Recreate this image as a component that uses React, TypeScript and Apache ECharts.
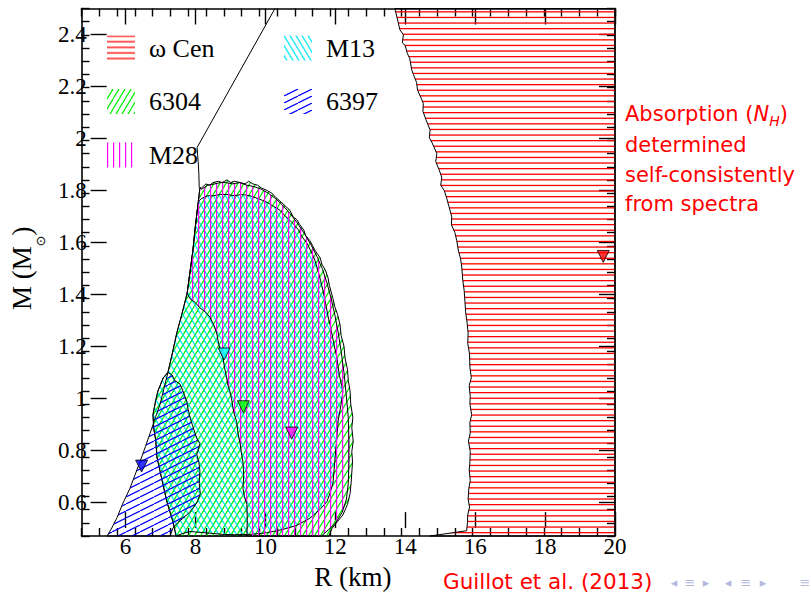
import React, { useEffect, useRef } from 'react';
import * as echarts from 'echarts';

type P = [number, number];

const X_MIN = 5, X_MAX = 20, Y_MIN = 0.5, Y_MAX = 2.5;
const xMajorTicks = [6, 8, 10, 12, 14, 16, 18, 20];
const yMajorTicks = [0.6, 0.8, 1, 1.2, 1.4, 1.6, 1.8, 2, 2.2, 2.4];

const legendCol1 = ['ω Cen', '6304', 'M28'];
const legendCol2 = ['M13', '6397'];

const omegaCenEdge: P[] = [
  [13.81, 2.5], [13.9, 2.45], [13.95, 2.42], [14.05, 2.4], [14.02, 2.37], [14.1, 2.36], [14.16, 2.33],
  [14.23, 2.31], [14.28, 2.27], [14.33, 2.25], [14.42, 2.22], [14.45, 2.19], [14.55, 2.16], [14.61, 2.14],
  [14.6, 2.11], [14.68, 2.08], [14.8, 2.04], [14.78, 2.01], [14.86, 1.99], [14.99, 1.95], [14.96, 1.92],
  [15.05, 1.89], [15.13, 1.86], [15.1, 1.83], [15.2, 1.81], [15.27, 1.78], [15.33, 1.75], [15.41, 1.71],
  [15.4, 1.68], [15.5, 1.65], [15.55, 1.62], [15.6, 1.58], [15.66, 1.55], [15.69, 1.52], [15.72, 1.47],
  [15.76, 1.43], [15.78, 1.39], [15.8, 1.35], [15.84, 1.31], [15.87, 1.27], [15.86, 1.23], [15.91, 1.19],
  [15.92, 1.14], [15.96, 1.1], [15.9, 1.07], [15.93, 1.03], [15.92, 1.0], [15.97, 0.96], [15.92, 0.93],
  [15.93, 0.89], [15.88, 0.86], [15.93, 0.82], [15.92, 0.78], [15.9, 0.75], [15.93, 0.71], [15.89, 0.68],
  [15.87, 0.64], [15.91, 0.61], [15.86, 0.58], [15.85, 0.55], [15.83, 0.52], [14.8, 0.5],
  [20, 0.5], [20, 2.5],
];

const leftEdge: P[] = [
  [5.72, 0.5], [5.85, 0.53], [6.0, 0.57], [6.15, 0.62], [6.36, 0.68], [6.5, 0.73], [6.64, 0.78],
  [6.8, 0.84], [6.93, 0.89], [7.08, 0.95], [7.21, 1.0], [7.32, 1.06], [7.43, 1.12], [7.55, 1.19],
  [7.68, 1.27], [7.82, 1.34], [7.97, 1.42], [8.05, 1.5], [8.13, 1.58], [8.19, 1.66], [8.25, 1.73],
  [8.33, 1.82],
];

const blueTopRight: P[] = [
  [7.55, 1.11], [7.62, 1.09], [7.77, 1.076], [7.85, 1.05], [7.96, 1.01], [8.0, 0.98], [8.05, 0.95],
  [8.12, 0.92], [8.24, 0.87], [8.33, 0.85], [8.27, 0.82], [8.24, 0.81], [8.3, 0.78], [8.33, 0.745],
  [8.31, 0.7], [8.34, 0.66], [8.26, 0.63], [8.13, 0.605], [8.0, 0.585], [7.85, 0.567], [7.7, 0.55],
  [7.57, 0.53], [7.49, 0.5],
];

const innerLeft: P[] = [
  [7.66, 0.5], [7.57, 0.555], [7.4, 0.63], [7.3, 0.69], [7.21, 0.745], [7.12, 0.8], [7.09, 0.86],
  [7.03, 0.91], [7.01, 0.96], [7.08, 1.01], [7.15, 1.05], [7.3, 1.1],
];

const outer6304: P[] = [
  [8.38, 1.82], [8.5, 1.835], [8.6, 1.83], [8.7, 1.84], [8.85, 1.845], [8.95, 1.84], [9.09, 1.85],
  [9.2, 1.84], [9.3, 1.845], [9.46, 1.84], [9.6, 1.835], [9.7, 1.845], [9.82, 1.835], [9.95, 1.83],
  [10.05, 1.82], [10.22, 1.81], [10.35, 1.8], [10.45, 1.785], [10.58, 1.77], [10.7, 1.755], [10.86, 1.735],
  [10.95, 1.71], [11.05, 1.7], [11.14, 1.68], [11.25, 1.66], [11.3, 1.64], [11.42, 1.62], [11.5, 1.6],
  [11.58, 1.58], [11.71, 1.555], [11.76, 1.53], [11.85, 1.51], [11.93, 1.48], [11.97, 1.45], [12.07, 1.4],
  [12.12, 1.37], [12.2, 1.34], [12.27, 1.3], [12.3, 1.26], [12.38, 1.22], [12.41, 1.175], [12.48, 1.13],
  [12.5, 1.09], [12.55, 1.05], [12.57, 1.0], [12.63, 0.95], [12.6, 0.91], [12.64, 0.86], [12.6, 0.82],
  [12.62, 0.78], [12.6, 0.74], [12.58, 0.7], [12.55, 0.66], [12.48, 0.62], [12.35, 0.58], [12.2, 0.555],
  [12.05, 0.53], [11.95, 0.5],
];

const leftM28: P[] = [
  [9.65, 0.5], [9.66, 0.56], [9.65, 0.62], [9.58, 0.65], [9.54, 0.68], [9.56, 0.73], [9.54, 0.78],
  [9.49, 0.82], [9.46, 0.85], [9.4, 0.89], [9.36, 0.935], [9.3, 0.96], [9.26, 0.985], [9.22, 1.02],
  [9.17, 1.05], [9.12, 1.07], [9.08, 1.1], [9.02, 1.14], [8.98, 1.175], [8.93, 1.19], [8.89, 1.21],
  [8.84, 1.24], [8.8, 1.27], [8.72, 1.3], [8.61, 1.33], [8.48, 1.35], [8.33, 1.365], [8.2, 1.385],
  [8.05, 1.4],
];

const outerM28: P[] = [
  [8.38, 1.815], [8.55, 1.83], [8.75, 1.835], [8.9, 1.84], [9.05, 1.84], [9.25, 1.835], [9.45, 1.84],
  [9.65, 1.83], [9.85, 1.825], [10.05, 1.815], [10.25, 1.8], [10.45, 1.78], [10.65, 1.755], [10.85, 1.725],
  [11.05, 1.69], [11.25, 1.65], [11.45, 1.605], [11.62, 1.56], [11.78, 1.51], [11.9, 1.46], [12.02, 1.4],
  [12.12, 1.34], [12.22, 1.27], [12.3, 1.2], [12.38, 1.12], [12.44, 1.04], [12.5, 0.95], [12.52, 0.86],
  [12.52, 0.78], [12.5, 0.7], [12.45, 0.64], [12.33, 0.59], [12.15, 0.55], [11.95, 0.525], [11.75, 0.5],
];

const innerM13: P[] = [
  [8.3, 1.77], [8.38, 1.78], [8.55, 1.79], [8.7, 1.79], [8.9, 1.795], [9.09, 1.795], [9.3, 1.79],
  [9.5, 1.795], [9.74, 1.79], [9.95, 1.78], [10.1, 1.772], [10.22, 1.765], [10.4, 1.75], [10.58, 1.735],
  [10.75, 1.71], [10.95, 1.685], [11.1, 1.66], [11.2, 1.635], [11.34, 1.61], [11.45, 1.58], [11.55, 1.55],
  [11.62, 1.52], [11.72, 1.47], [11.79, 1.43], [11.88, 1.37], [11.95, 1.32], [11.99, 1.3], [12.08, 1.24],
  [12.18, 1.175], [12.25, 1.11], [12.35, 1.05], [12.3, 1.0], [12.22, 0.94], [12.17, 0.86], [12.12, 0.78],
  [12.07, 0.7], [11.98, 0.66], [11.9, 0.63], [11.7, 0.6], [11.42, 0.567], [11.05, 0.54], [10.66, 0.525],
  [10.2, 0.512], [9.74, 0.506], [9.3, 0.505], [8.98, 0.506], [8.5, 0.512], [8.05, 0.517], [7.85, 0.51],
];

const boundaryCurve: P[] = [
  [10.44, 2.5], [8.25, 1.973], [8.28, 1.92], [8.3, 1.873], [8.31, 1.82],
];

const markerPoints: P[] = [[19.67, 1.56], [9.01, 1.19], [9.55, 0.99], [10.91, 0.89], [6.69, 0.765]];
const markerColors = ['#ff0000', '#00ffff', '#00ff00', '#ff00ff', '#0000ff'];

const SERIF = '"Liberation Serif", "Times New Roman", serif';
const SANS = '"DejaVu Sans", sans-serif';
const RED = '#ff0000';

function makePattern(color: string, kind: 'h' | 'v' | 'up' | 'down', w: number, h: number, n = 5) {
  const c = document.createElement('canvas');
  c.width = w;
  c.height = h;
  const ctx = c.getContext('2d')!;
  ctx.strokeStyle = color;
  ctx.fillStyle = color;
  ctx.lineWidth = 1.2;
  if (kind === 'h') {
    for (let i = 0; i < n; i++) ctx.fillRect(0, (i * h) / n, w, 1.3);
  } else if (kind === 'v') {
    for (let i = 0; i < n; i++) ctx.fillRect((i * w) / n, 0, 1.2, h);
  } else {
    for (let k = -1; k <= 1; k++) {
      ctx.beginPath();
      if (kind === 'up') {
        ctx.moveTo(k * w, h);
        ctx.lineTo(k * w + w, 0);
      } else {
        ctx.moveTo(k * w, 0);
        ctx.lineTo(k * w + w, h);
      }
      ctx.stroke();
    }
  }
  return { image: c.toDataURL(), imageWidth: w, imageHeight: h, repeat: 'repeat' };
}

export default function App() {
  const ref = useRef<HTMLDivElement>(null);
  useEffect(() => {
    const chart = echarts.init(ref.current!, null, { renderer: 'svg' });

    const patterns: Record<string, any> = {
      'ω Cen': makePattern(RED, 'h', 8, 28),
      '6304': makePattern('#00ee00', 'up', 6, 10),
      'M28': makePattern('#ff00ff', 'v', 30, 8),
      'M13': makePattern('#00e8f0', 'down', 6, 10),
      '6397': makePattern('#0000ff', 'up', 14, 7),
    };

    const polys: Record<string, P[]> = {
      'ω Cen': omegaCenEdge,
      '6304': [...innerLeft, ...leftEdge.slice(12), ...outer6304],
      'M13': [...innerLeft, ...leftEdge.slice(12, 21), ...innerM13],
      'M28': [...leftM28, ...leftEdge.slice(16), ...outerM28],
      '6397': [...leftEdge.slice(0, 13), ...blueTopRight],
    };

    const order = ['ω Cen', '6304', 'M13', 'M28', '6397'];

    const polySeries = order.map((name) => ({
      type: 'custom',
      name,
      xAxisIndex: 0,
      yAxisIndex: 0,
      itemStyle: { color: patterns[name], borderWidth: 0 },
      data: [polys[name][0]],
      renderItem: (params: any, api: any) => {
        if (params.dataIndex !== 0) return null;
        const pts = polys[name].map((p) => api.coord(p));
        return {
          type: 'polygon',
          shape: { points: pts },
          style: { fill: patterns[name], stroke: '#000', lineWidth: 1 },
        };
      },
    }));

    const minorTick = { show: true, inside: true, length: 8, lineStyle: { color: '#000', width: 1.4 } };
    const majorTick = { inside: true, length: 16, lineStyle: { color: '#000', width: 1.4 } };
    const baseX = { type: 'value', min: X_MIN, max: X_MAX, splitLine: { show: false } };
    const baseY = { type: 'value', min: Y_MIN, max: Y_MAX, splitLine: { show: false } };
    const axisLine = { show: true, lineStyle: { color: '#000', width: 1.6 } };

    const gridRect = { left: 81.5, top: 8.5, width: 533.5, height: 527.5 };

    const legendCommon = {
      orient: 'vertical',
      top: 35,
      itemWidth: 28,
      itemHeight: 25,
      itemGap: 27.5,
      icon: 'rect',
      padding: 0,
      selectedMode: false,
      itemStyle: { borderWidth: 0 },
      textStyle: { fontFamily: SERIF, fontSize: 26, color: '#000', padding: [0, 0, 0, 9] },
    };
    const legendItem = (name: string, patterns: Record<string, any>) => ({
      name,
      itemStyle: { color: patterns[name], borderWidth: 0 },
    });

    const navColor = '#b4b8de';
    const navItems: [string, number][] = [
      ['◂', 674], ['≡', 690], ['▸', 706], ['◂', 728], ['≡', 746], ['▸', 763], ['≡', 805],
    ];

    const option: any = {
      animation: false,
      backgroundColor: '#fff',
      grid: [
        { ...gridRect, containLabel: false },
        { ...gridRect, containLabel: false },
      ],
      xAxis: [
        { ...baseX, gridIndex: 0, position: 'bottom', interval: 0.5, axisLine, axisTick: minorTick, axisLabel: { show: false } },
        { ...baseX, gridIndex: 0, position: 'top', interval: 0.5, axisLine, axisTick: minorTick, axisLabel: { show: false } },
        {
          ...baseX, gridIndex: 1, position: 'bottom',
          axisLine: { show: false },
          axisTick: { ...majorTick, show: true, customValues: xMajorTicks },
          axisLabel: { show: true, customValues: xMajorTicks, fontFamily: SERIF, fontSize: 23, color: '#000', margin: 7 },
          name: 'R (km)', nameLocation: 'middle', nameGap: 26,
          nameTextStyle: { fontFamily: SERIF, fontSize: 27, color: '#000' },
        },
        {
          ...baseX, gridIndex: 1, position: 'top',
          axisLine: { show: false },
          axisTick: { ...majorTick, show: true, customValues: xMajorTicks },
          axisLabel: { show: false },
        },
      ],
      yAxis: [
        { ...baseY, gridIndex: 0, position: 'left', interval: 0.05, axisLine, axisTick: minorTick, axisLabel: { show: false } },
        { ...baseY, gridIndex: 0, position: 'right', interval: 0.05, axisLine, axisTick: minorTick, axisLabel: { show: false } },
        {
          ...baseY, gridIndex: 1, position: 'left',
          axisLine: { show: false },
          axisTick: { ...majorTick, show: true, customValues: yMajorTicks },
          axisLabel: { show: true, customValues: yMajorTicks, fontFamily: SERIF, fontSize: 23, color: '#000', margin: 4 },
          name: '{a|M (M}{s|⊙}{a|)}', nameLocation: 'middle', nameGap: 44, nameRotate: 90,
          nameTextStyle: {
            rich: {
              a: { fontFamily: SERIF, fontSize: 27, color: '#000', lineHeight: 30, verticalAlign: 'top' },
              s: { fontFamily: SANS, fontSize: 13, color: '#000', lineHeight: 13, verticalAlign: 'top', padding: [26, 0, 0, 0] },
            },
          },
        },
        {
          ...baseY, gridIndex: 1, position: 'right',
          axisLine: { show: false },
          axisTick: { ...majorTick, show: true, customValues: yMajorTicks },
          axisLabel: { show: false },
        },
      ],
      legend: [
        { ...legendCommon, left: 107, data: legendCol1.map((n) => legendItem(n, patterns)) },
        { ...legendCommon, left: 284, data: legendCol2.map((n) => legendItem(n, patterns)) },
      ],
      series: [
        ...polySeries,
        {
          type: 'line',
          name: 'boundary',
          xAxisIndex: 0,
          yAxisIndex: 0,
          data: boundaryCurve,
          symbol: 'none',
          lineStyle: { color: '#000', width: 1 },
          z: 5,
        },
        {
          type: 'scatter',
          name: 'best fit',
          xAxisIndex: 0,
          yAxisIndex: 0,
          symbol: 'triangle',
          symbolRotate: 180,
          symbolSize: [12, 12],
          z: 6,
          data: markerPoints.map((p, i) => ({
            value: p,
            itemStyle: { color: markerColors[i], borderColor: '#000', borderWidth: 1 },
          })),
        },
      ],
      graphic: [
        {
          type: 'text', x: 625, y: 116,
          style: {
            text: '{a|Absorption (}{i|N}{s|H}{a|)}',
            verticalAlign: 'middle',
            rich: {
              a: { fontFamily: SANS, fontSize: 21, fill: RED, lineHeight: 26, verticalAlign: 'top' },
              i: { fontFamily: SANS, fontSize: 21, fontStyle: 'italic', fill: RED, lineHeight: 26, verticalAlign: 'top' },
              s: { fontFamily: SANS, fontSize: 14, fontStyle: 'italic', fill: RED, lineHeight: 14, verticalAlign: 'top', padding: [11, 0, 0, 0] },
            },
          },
        },
        { type: 'text', x: 625, y: 145, style: { text: 'determined', fontFamily: SANS, fontSize: 21, fill: RED, verticalAlign: 'middle' } },
        { type: 'text', x: 625, y: 175, style: { text: 'self-consistently', fontFamily: SANS, fontSize: 21, fill: RED, verticalAlign: 'middle' } },
        { type: 'text', x: 625, y: 204, style: { text: 'from spectra', fontFamily: SANS, fontSize: 21, fill: RED, verticalAlign: 'middle' } },
        { type: 'text', x: 443, y: 581, style: { text: 'Guillot et al. (2013)', fontFamily: SANS, fontSize: 21.5, fill: RED, verticalAlign: 'middle' } },
        ...navItems.map(([t, x]) => ({
          type: 'text', x, y: 582,
          style: { text: t, fontFamily: SANS, fontSize: 13, fill: navColor, textAlign: 'center', verticalAlign: 'middle' },
        })),
      ],
    };

    chart.setOption(option);
    return () => chart.dispose();
  }, []);

  return <div ref={ref} style={{ position: 'fixed', left: 0, top: 0, width: 811, height: 595 }} />;
}
